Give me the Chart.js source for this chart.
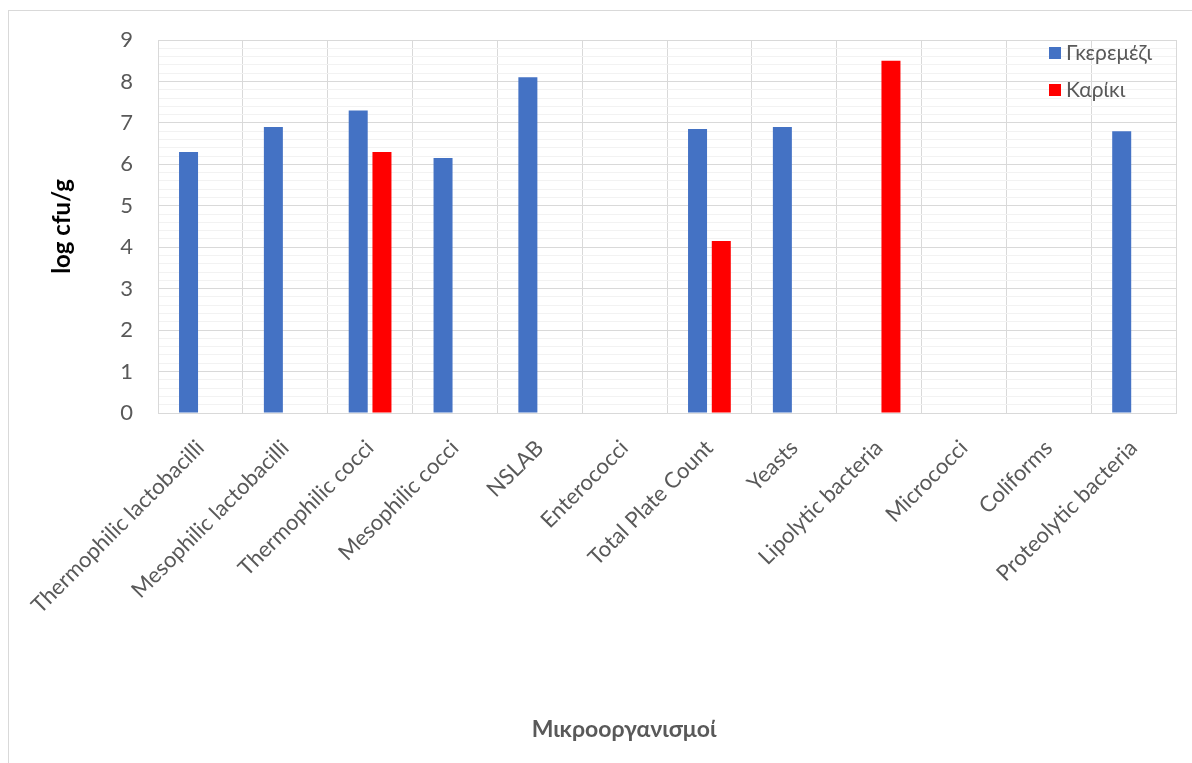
<!DOCTYPE html>
<html>
<head>
<meta charset="utf-8">
<script src="https://cdn.jsdelivr.net/npm/chart.js@4"></script>
<style>
  html, body { margin: 0; padding: 0; background: #ffffff; }
  #wrap { position: relative; width: 1192px; height: 763px; }
</style>
</head>
<body>
<div id="wrap"><canvas id="chart" width="1192" height="763"></canvas></div>
<script>
// Microbial counts (log cfu/g) per group of microorganisms
const categories = [
  'Thermophilic lactobacilli', 'Mesophilic lactobacilli', 'Thermophilic cocci',
  'Mesophilic cocci', 'NSLAB', 'Enterococci', 'Total Plate Count', 'Yeasts',
  'Lipolytic bacteria', 'Micrococci', 'Coliforms', 'Proteolytic bacteria'
];
const seriesNames = ['Γκερεμέζι', 'Καρίκι'];
const geremezi = [6.3, 6.9, 7.3, 6.15, 8.1, null, 6.85, 6.9, null, null, null, 6.8];
const kariki   = [null, null, 6.3, null, null, null, 4.15, null, 8.5, null, null, null];
const seriesColors = ['#4472C4', '#FF0000'];
const yTickValues = [0, 1, 2, 3, 4, 5, 6, 7, 8, 9];
const yTitle = 'log cfu/g';
const xTitle = 'Μικροοργανισμοί';

const FONT = 'Lato, "Open Sans", sans-serif';
const isWhole = v => Math.abs(v - Math.round(v)) < 1e-6;

// Outer frame, axis title under the categories and the in-plot legend
const decorations = {
  id: 'decorations',
  beforeDraw(chart) {
    const ctx = chart.ctx;
    ctx.save();
    ctx.fillStyle = '#ffffff';
    ctx.fillRect(0, 0, chart.width, chart.height);
    ctx.strokeStyle = '#d9d9d9';
    ctx.lineWidth = 1;
    ctx.strokeRect(8.5, 10.5, chart.width + 20, chart.height + 20);
    ctx.restore();
  },
  afterDraw(chart) {
    const ctx = chart.ctx;
    ctx.save();
    ctx.font = 'bold 23px ' + FONT;
    ctx.fillStyle = '#595959';
    ctx.textAlign = 'center';
    ctx.textBaseline = 'middle';
    ctx.fillText(xTitle, 624, 730);

    ctx.font = '21px ' + FONT;
    ctx.textAlign = 'left';
    chart.data.datasets.forEach((ds, i) => {
      const y = 53 + i * 37;
      ctx.fillStyle = ds.backgroundColor;
      ctx.fillRect(1049, y - 6, 12, 12);
      ctx.fillStyle = '#595959';
      ctx.fillText(ds.label, 1066, y);
    });
    ctx.restore();
  }
};

new Chart(document.getElementById('chart'), {
  type: 'bar',
  data: {
    labels: categories,
    datasets: [
      { label: seriesNames[0], data: geremezi, backgroundColor: seriesColors[0] },
      { label: seriesNames[1], data: kariki, backgroundColor: seriesColors[1] }
    ]
  },
  options: {
    responsive: false,
    animation: false,
    devicePixelRatio: 1,
    categoryPercentage: 0.56,
    barPercentage: 0.8,
    layout: { padding: { top: 40, right: 16, bottom: 0, left: 0 } },
    plugins: {
      legend: { display: false },
      tooltip: { enabled: false }
    },
    scales: {
      x: {
        grid: { color: '#d9d9d9', drawTicks: false, offset: true },
        border: { color: '#d9d9d9' },
        ticks: {
          color: '#595959',
          font: { family: FONT, size: 22 },
          maxRotation: 45,
          minRotation: 45,
          padding: 22,
          autoSkip: false
        },
        afterFit(scale) { scale.height = 350; }
      },
      y: {
        min: 0,
        max: 9,
        afterBuildTicks(scale) {
          const ticks = [];
          const last = yTickValues[yTickValues.length - 1];
          for (let k = 0; k <= last * 5; k++) ticks.push({ value: k / 5 });
          scale.ticks = ticks;
        },
        grid: {
          drawTicks: false,
          color: ctx => isWhole(ctx.tick.value) ? '#d9d9d9' : '#f2f2f2'
        },
        border: { color: '#d9d9d9' },
        ticks: {
          color: '#595959',
          font: { family: FONT, size: 22 },
          padding: 25,
          autoSkip: false,
          callback: v => yTickValues.includes(Math.round(v)) && isWhole(v) ? String(Math.round(v)) : ''
        },
        title: {
          display: true,
          text: yTitle,
          color: '#000000',
          font: { family: FONT, size: 24, weight: 'bold' },
          padding: { top: 48, bottom: 0 }
        },
        afterFit(scale) { scale.width = 158; }
      }
    }
  },
  plugins: [decorations]
});
</script>
</body>
</html>
